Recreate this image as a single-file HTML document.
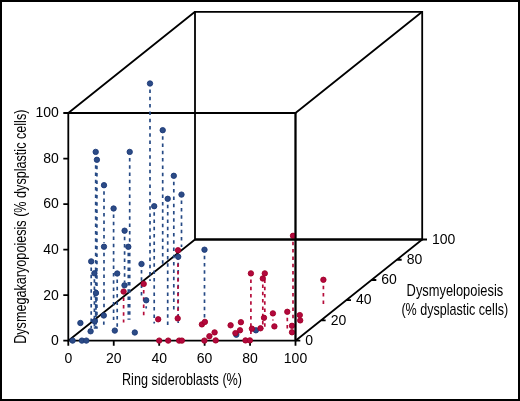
<!DOCTYPE html><html><head><meta charset="utf-8"><style>html,body{margin:0;padding:0;background:#fff;}svg{display:block;will-change:transform;}text{font-family:"Liberation Sans",sans-serif;fill:#000;}</style></head><body>
<svg width="520" height="401" viewBox="0 0 520 401">
<rect x="0" y="0" width="520" height="401" fill="#fff"/>
<rect x="1" y="1" width="518" height="399" fill="none" stroke="#000" stroke-width="2"/>
<path d="M68.3 113H295.5V340.7H68.3Z M195 11.8H422.2V239.5H195Z" stroke="#000" stroke-width="1.8" fill="none" stroke-linejoin="miter"/>
<path d="M68.3 113L195 11.8 M295.5 113L422.2 11.8 M68.3 340.7L195 239.5 M295.5 340.7L422.2 239.5 M63.3 340.7L68.3 340.7 M68.3 340.7L68.3 345.7 M295.5 340.7L300.3 340.7 M63.3 295.16L68.3 295.16 M113.74 340.7L113.74 345.7 M320.84 320.46L325.64 320.46 M63.3 249.62L68.3 249.62 M159.18 340.7L159.18 345.7 M346.18 300.22L350.98 300.22 M63.3 204.08L68.3 204.08 M204.62 340.7L204.62 345.7 M371.52 279.98L376.32 279.98 M63.3 158.54L68.3 158.54 M250.06 340.7L250.06 345.7 M396.86 259.74L401.66 259.74 M63.3 113L68.3 113 M295.5 340.7L295.5 345.7 M422.2 239.5L427 239.5" stroke="#000" stroke-width="1.8" fill="none"/>
<path d="M150 89.5V281 M162.7 136.2V264 M95.7 157.9V328.7 M96.9 165.8V328.7 M129.7 157.9V319.7 M104 191.2V243 M113.6 214.5V320 M154.2 212.2V323.5 M167.7 204.8V328 M173.8 181.8V310 M181.5 200.6V247 M104 252.7V311 M124.6 236.7V282 M128.3 252.8V319.7 M91.2 267.4V328 M94.4 279.3V328.7 M117.2 279.5V327 M141.5 270V296 M96 299V328.7 M103.8 321.5V324.7 M94.6 327.3V328.7 M146.2 306.3V308.4 M178.2 262.8V323 M204.5 255.7V318" stroke="#264a85" stroke-width="1.7" stroke-dasharray="3.5 3.8" fill="none"/>
<path d="M178 256.3V318 M143.7 289.9V315.7 M123.6 297.6V322.4 M250.9 279.4V335.7 M264.8 279.4V328.7 M262.8 284.5V328.7 M272.9 319.4V320.5 M287.3 317.8V330.9 M323.4 285.8V305.2 M293 241.8V322" stroke="#b50d3b" stroke-width="1.7" stroke-dasharray="3.5 3.8" fill="none"/>
<g fill="#2c4b86" stroke="#1c3a78" stroke-width="0.9">
<circle cx="150" cy="83.5" r="2.7"/>
<circle cx="162.7" cy="130.2" r="2.7"/>
<circle cx="95.7" cy="151.9" r="2.7"/>
<circle cx="96.9" cy="159.8" r="2.7"/>
<circle cx="129.7" cy="151.9" r="2.7"/>
<circle cx="104" cy="185.2" r="2.7"/>
<circle cx="113.6" cy="208.5" r="2.7"/>
<circle cx="154.2" cy="206.2" r="2.7"/>
<circle cx="167.7" cy="198.8" r="2.7"/>
<circle cx="173.8" cy="175.8" r="2.7"/>
<circle cx="181.5" cy="194.6" r="2.7"/>
<circle cx="104" cy="246.7" r="2.7"/>
<circle cx="124.6" cy="230.7" r="2.7"/>
<circle cx="128.3" cy="246.8" r="2.7"/>
<circle cx="91.2" cy="261.4" r="2.7"/>
<circle cx="94.4" cy="273.3" r="2.7"/>
<circle cx="117.2" cy="273.5" r="2.7"/>
<circle cx="141.5" cy="264" r="2.7"/>
<circle cx="124.5" cy="285.3" r="2.7"/>
<circle cx="96" cy="293" r="2.7"/>
<circle cx="103.8" cy="315.5" r="2.7"/>
<circle cx="94.6" cy="321.3" r="2.7"/>
<circle cx="80.4" cy="323" r="2.7"/>
<circle cx="90.6" cy="331.3" r="2.7"/>
<circle cx="114.8" cy="330.6" r="2.7"/>
<circle cx="72.6" cy="340.6" r="2.7"/>
<circle cx="81.9" cy="340.6" r="2.7"/>
<circle cx="86.3" cy="340.6" r="2.7"/>
<circle cx="146.2" cy="300.3" r="2.7"/>
<circle cx="134.8" cy="332.5" r="2.7"/>
<circle cx="178.2" cy="256.8" r="2.7"/>
<circle cx="204.5" cy="249.7" r="2.7"/>
<circle cx="255.9" cy="330.3" r="2.7"/>
<circle cx="236.3" cy="334.7" r="2.7"/>
</g><g fill="#b2083e" stroke="#a10026" stroke-width="0.9">
<circle cx="178" cy="250.3" r="2.7"/>
<circle cx="143.7" cy="283.9" r="2.7"/>
<circle cx="123.6" cy="291.6" r="2.7"/>
<circle cx="158.2" cy="319.3" r="2.7"/>
<circle cx="177.7" cy="318.4" r="2.7"/>
<circle cx="159.2" cy="340.6" r="2.7"/>
<circle cx="168.2" cy="340.6" r="2.7"/>
<circle cx="179.1" cy="340.6" r="2.7"/>
<circle cx="181.9" cy="340.6" r="2.7"/>
<circle cx="204.4" cy="340.6" r="2.7"/>
<circle cx="215.7" cy="340.4" r="2.7"/>
<circle cx="245.5" cy="340.4" r="2.7"/>
<circle cx="249.9" cy="340.4" r="2.7"/>
<circle cx="201.9" cy="324.4" r="2.7"/>
<circle cx="204.9" cy="321.9" r="2.7"/>
<circle cx="214.6" cy="332.4" r="2.7"/>
<circle cx="209.4" cy="336.2" r="2.7"/>
<circle cx="230.6" cy="325.3" r="2.7"/>
<circle cx="240.9" cy="322.2" r="2.7"/>
<circle cx="240" cy="330.3" r="2.7"/>
<circle cx="235.4" cy="333.1" r="2.7"/>
<circle cx="251.9" cy="328.7" r="2.7"/>
<circle cx="260.5" cy="328.3" r="2.7"/>
<circle cx="250.9" cy="273.4" r="2.7"/>
<circle cx="264.8" cy="273.4" r="2.7"/>
<circle cx="262.8" cy="278.5" r="2.7"/>
<circle cx="264" cy="317.8" r="2.7"/>
<circle cx="272.9" cy="313.4" r="2.7"/>
<circle cx="274.4" cy="326.4" r="2.7"/>
<circle cx="287.3" cy="311.8" r="2.7"/>
<circle cx="292" cy="325.8" r="2.7"/>
<circle cx="292" cy="332.3" r="2.7"/>
<circle cx="299.8" cy="315.1" r="2.7"/>
<circle cx="300.2" cy="320.4" r="2.7"/>
<circle cx="323.4" cy="279.8" r="2.7"/>
<circle cx="293" cy="235.8" r="2.7"/>
</g>
<path d="M295.5 113L295.5 340.7 M195 239.5L422.2 239.5" stroke="#000" stroke-width="1.8" fill="none"/>
<text x="58.8" y="345.1" font-size="14" text-anchor="end">0</text>
<text x="68.3" y="362.6" font-size="14" text-anchor="middle">0</text>
<text x="305.3" y="344.9" font-size="14">0</text>
<text x="58.8" y="299.56" font-size="14" text-anchor="end">20</text>
<text x="113.74" y="362.6" font-size="14" text-anchor="middle">20</text>
<text x="330.64" y="324.66" font-size="14">20</text>
<text x="58.8" y="254.02" font-size="14" text-anchor="end">40</text>
<text x="159.18" y="362.6" font-size="14" text-anchor="middle">40</text>
<text x="355.98" y="304.42" font-size="14">40</text>
<text x="58.8" y="208.48" font-size="14" text-anchor="end">60</text>
<text x="204.62" y="362.6" font-size="14" text-anchor="middle">60</text>
<text x="381.32" y="284.18" font-size="14">60</text>
<text x="58.8" y="162.94" font-size="14" text-anchor="end">80</text>
<text x="250.06" y="362.6" font-size="14" text-anchor="middle">80</text>
<text x="406.66" y="263.94" font-size="14">80</text>
<text x="58.8" y="117.4" font-size="14" text-anchor="end">100</text>
<text x="295.5" y="362.6" font-size="14" text-anchor="middle">100</text>
<text x="432" y="243.7" font-size="14">100</text>
<text transform="translate(122 384.5) scale(0.79 1)" font-size="16">Ring sideroblasts (%)</text>
<text transform="translate(406.6 295.6) scale(0.805 1)" font-size="16">Dysmyelopoiesis</text>
<text transform="translate(401.4 315.2) scale(0.785 1)" font-size="16">(% dysplastic cells)</text>
<text transform="translate(26 343.8) rotate(-90) scale(0.789 1)" font-size="16">Dysmegakaryopoiesis (% dysplastic cells)</text>
</svg></body></html>
